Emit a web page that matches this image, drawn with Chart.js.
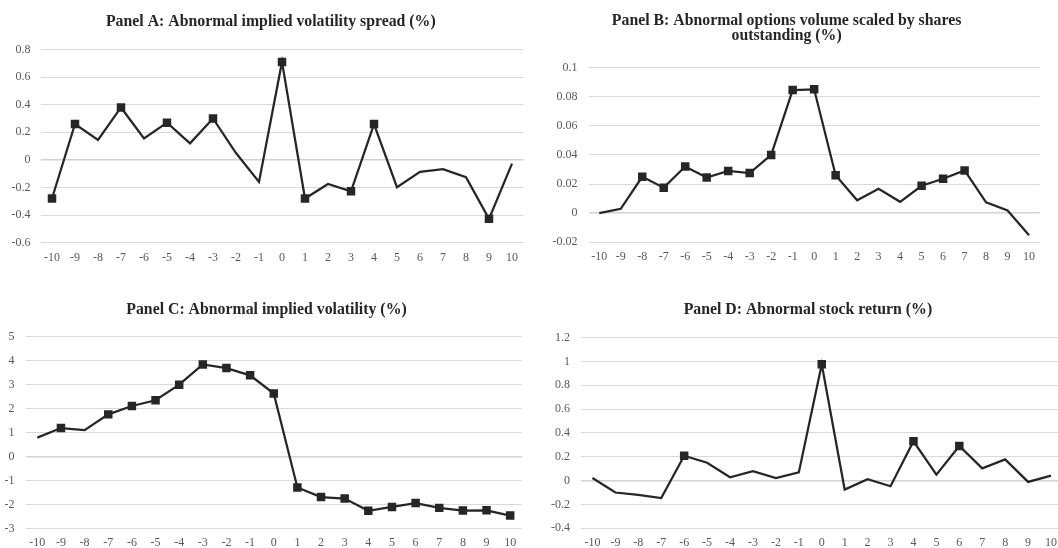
<!DOCTYPE html>
<html>
<head>
<meta charset="utf-8">
<script src="https://cdn.jsdelivr.net/npm/chart.js@4.4.1/dist/chart.umd.min.js"></script>
<style>
  html, body { margin: 0; padding: 0; background: #ffffff; overflow: hidden; width: 1058px; height: 548px; }
  .panel { position: absolute; }
  canvas { display: block; }
</style>
</head>
<body>
<div class="panel" style="left:0px;top:0px;"><canvas id="cA" width="538" height="274"></canvas></div>
<div class="panel" style="left:529px;top:0px;"><canvas id="cB" width="529" height="274"></canvas></div>
<div class="panel" style="left:0px;top:274px;"><canvas id="cC" width="531" height="274"></canvas></div>
<div class="panel" style="left:529px;top:274px;"><canvas id="cD" width="540" height="274"></canvas></div>
<script>
// ---- Data ----
const eventDays = ['-10','-9','-8','-7','-6','-5','-4','-3','-2','-1','0','1','2','3','4','5','6','7','8','9','10'];

const titleA = 'Panel A: Abnormal implied volatility spread (%)';
const valuesA = [-0.28, 0.26, 0.145, 0.38, 0.155, 0.27, 0.12, 0.30, 0.05, -0.16, 0.71, -0.28, -0.175, -0.228, 0.26, -0.198, -0.087, -0.067, -0.125, -0.427, -0.027];
const significantA = [1,1,0,1,0,1,0,1,0,0,1,1,0,1,1,0,0,0,0,1,0];

const titleB = ['Panel B: Abnormal options volume scaled by shares', 'outstanding (%)'];
const valuesB = [0.000, 0.003, 0.025, 0.0175, 0.032, 0.0245, 0.029, 0.0275, 0.040, 0.0845, 0.085, 0.026, 0.0088, 0.0168, 0.0078, 0.0188, 0.0236, 0.0293, 0.0074, 0.0018, -0.0151];
const significantB = [0,0,1,1,1,1,1,1,1,1,1,1,0,0,0,1,1,1,0,0,0];

const titleC = 'Panel C: Abnormal implied volatility (%)';
const valuesC = [0.79, 1.19, 1.10, 1.76, 2.11, 2.35, 3.00, 3.84, 3.69, 3.39, 2.63, -1.29, -1.69, -1.75, -2.26, -2.10, -1.94, -2.14, -2.25, -2.24, -2.46];
const significantC = [0,1,0,1,1,1,1,1,1,1,1,1,1,1,1,1,1,1,1,1,1];

const titleD = 'Panel D: Abnormal stock return (%)';
const valuesD = [0.022, -0.10, -0.119, -0.147, 0.208, 0.15, 0.028, 0.08, 0.022, 0.069, 0.975, -0.075, 0.011, -0.047, 0.33, 0.05, 0.29, 0.103, 0.178, -0.011, 0.042];
const significantD = [0,0,0,0,1,0,0,0,0,0,1,0,0,0,1,0,1,0,0,0,0];

const axisA = { min: -0.6, max: 0.8, step: 0.2 };
const axisB = { min: -0.02, max: 0.1, step: 0.02 };
const axisC = { min: -3, max: 5, step: 1 };
const axisD = { min: -0.4, max: 1.2, step: 0.2 };

// ---- Styling ----
Chart.defaults.font.family = "'Liberation Serif', 'Times New Roman', serif";
Chart.defaults.animation = false;

const LINE = '#262626';

function makePanel(id, title, values, sig, axis, lay) {
  new Chart(document.getElementById(id), {
    type: 'line',
    data: {
      labels: eventDays,
      datasets: [{
        data: values,
        yAxisID: 'y',
        borderColor: LINE,
        borderWidth: 2.25,
        tension: 0,
        fill: false,
        pointStyle: 'rect',
        pointBackgroundColor: LINE,
        pointBorderColor: LINE,
        pointBorderWidth: 0,
        pointRadius: ctx => sig[ctx.dataIndex] ? 6 : 0,
        pointHoverRadius: ctx => sig[ctx.dataIndex] ? 6 : 0
      }]
    },
    options: {
      responsive: false,
      maintainAspectRatio: false,
      events: [],
      layout: { padding: { left: lay.padL, right: lay.padR, top: 0, bottom: 0 } },
      plugins: {
        legend: { display: false },
        tooltip: { enabled: false },
        title: {
          display: true,
          text: title,
          color: '#262626',
          font: { size: 15.8, weight: 'bold', lineHeight: 15 / 15.8 },
          padding: { top: lay.tTop, bottom: lay.tBot }
        }
      },
      scales: {
        x: {
          offset: true,
          grid: { display: false, drawTicks: false, offset: true },
          border: { display: false },
          ticks: { color: '#595959', font: { size: 12 }, padding: 7.5, autoSkip: false, maxRotation: 0 },
          afterFit: s => { s.height = lay.xH; }
        },
        y: {
          position: 'left',
          min: axis.min,
          max: axis.max,
          grid: {
            drawTicks: false,
            color: c => (c.tick && Math.abs(c.tick.value) < 1e-9) ? '#d2d2d2' : '#d9d9d9',
            lineWidth: c => (c.tick && Math.abs(c.tick.value) < 1e-9) ? 1.6 : 1
          },
          border: { display: false },
          ticks: {
            stepSize: axis.step,
            color: '#595959',
            font: { size: 12 },
            padding: lay.yPad,
            callback: v => String(parseFloat(Number(v).toFixed(4)) + 0)
          },
          afterFit: s => { s.width = lay.yW; }
        },
        yRight: {
          position: 'right',
          display: true,
          grid: { display: false, drawTicks: false },
          border: { display: false },
          ticks: { display: false },
          afterFit: s => { s.width = lay.rW; }
        }
      }
    }
  });
}

makePanel('cA', titleA, valuesA, significantA, axisA, { padL: 4, padR: 0.4, yW: 36.5, rW: 14.1, yPad: 10, tTop: 14, tBot: 20.5, xH: 31.3 });
makePanel('cB', titleB, valuesB, significantB, axisB, { padL: 4, padR: 17.8, yW: 55.5, rW: 0.4, yPad: 11, tTop: 13.5, tBot: 24, xH: 31.7 });
makePanel('cC', titleC, valuesC, significantC, axisC, { padL: 2, padR: 0, yW: 23.5, rW: 9, yPad: 11, tTop: 28, tBot: 19.7, xH: 19.5 });
makePanel('cD', titleD, valuesD, significantD, axisD, { padL: 18, padR: 0.2, yW: 34, rW: 6.3, yPad: 11, tTop: 28, tBot: 20.5, xH: 19.7 });
</script>
</body>
</html>
